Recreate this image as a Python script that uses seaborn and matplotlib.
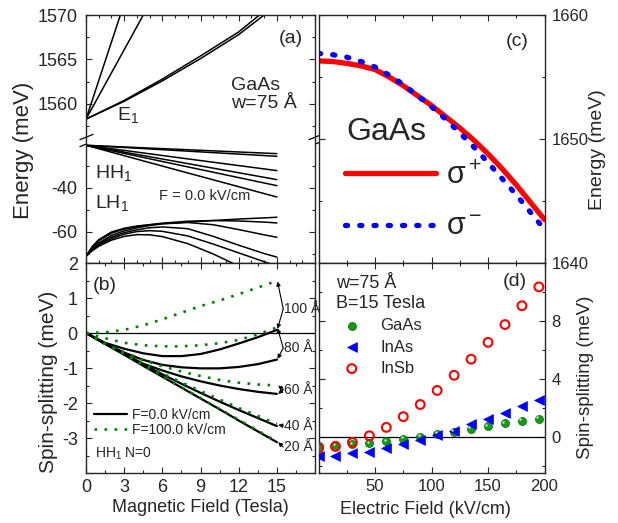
import numpy as np
import pandas as pd
import matplotlib
matplotlib.use('Agg')
import matplotlib.pyplot as plt
import seaborn as sns
from matplotlib.ticker import FixedLocator, MultipleLocator
from matplotlib.path import Path
from matplotlib.transforms import ScaledTranslation

sns.set_style('ticks')
plt.rcParams['font.family'] = ['Liberation Sans', 'DejaVu Sans']
plt.rcParams['mathtext.fontset'] = 'custom'
plt.rcParams['mathtext.rm'] = 'Liberation Sans'
plt.rcParams['mathtext.it'] = 'Liberation Sans:italic'
plt.rcParams['mathtext.bf'] = 'Liberation Sans:bold'
plt.rcParams['axes.unicode_minus'] = False

# ---- (a) Landau levels, GaAs w=75 A, F=0
e1_b_steep = [0, 1.5, 3.0]
e1_b_mid = [0, 2.5, 5.0]
e1_fan = [1558.3, 1564.8, 1571.3]
e1_b_low = [0, 3, 6, 9, 12, 15]
e1_low_1 = [1558.3, 1560.4, 1562.8, 1565.4, 1568.1, 1571.6]
e1_low_2 = [1558.3, 1560.3, 1562.6, 1565.1, 1567.8, 1571.1]

hh_b = [0, 7.5, 15]
hh_levels = [
    [-20.6, -22.5, -24.4],
    [-20.6, -23.1, -25.6],
    [-20.6, -26.4, -32.1],
    [-20.6, -28.4, -36.2],
    [-20.6, -29.8, -38.95],
    [-20.6, -32.4, -44.1],
]

lh_b = [0, 0.5, 1, 2, 3, 4, 5, 6, 8, 10, 12, 14, 15]
lh_levels = [
    [-71, -66.5, -63.5, -60, -58.3, -57.3, -56.7, -56.2, -55.5, -54.8, -54.1, -53.6, -53.3],
    [-71, -67, -64, -60.5, -58.7, -57.5, -56.7, -56, -55.1, -54.8, -55, -55.5, -55.9],
    [-71, -67.5, -65, -61.5, -59.5, -58.1, -57.1, -56.3, -55.7, -56.7, -58.9, -61.3, -62.4],
    [-71, -67.8, -65.5, -62.3, -60.3, -59, -58.1, -57.7, -58.5, -62, -66, -69.8, -71.4],
    [-71, -68.1, -66, -63, -61, -59.8, -59.4, -59.7, -61.8, -65.5, -69.5, -73.5, -75.5],
    [-71, -68.5, -66.5, -63.7, -62, -61.2, -61.3, -62.1, -65.3, -70, -75.5, -80, -82],
]

# ---- (b) spin splitting vs B for several widths
b_field = [0, 1.5, 3, 4.5, 6, 7.5, 9, 10.5, 12, 13.5, 15]
w100_f0 = [0, -0.28, -0.45, -0.58, -0.66, -0.66, -0.6, -0.47, -0.3, -0.12, 0.09]
w80_f0 = [0, -0.3, -0.56, -0.77, -0.91, -0.98, -1.01, -1.01, -0.97, -0.89, -0.76]
w60_f0 = [0, -0.31, -0.6, -0.88, -1.07, -1.24, -1.38, -1.5, -1.6, -1.68, -1.74]
w40_f0 = [0, -0.31, -0.61, -0.9, -1.18, -1.45, -1.71, -1.96, -2.2, -2.43, -2.66]
w20_f0 = [0, -0.31, -0.62, -0.94, -1.25, -1.56, -1.87, -2.18, -2.5, -2.81, -3.12]
w100_f100 = [0, 0.02, 0.09, 0.22, 0.39, 0.58, 0.77, 0.93, 1.11, 1.3, 1.49]
w80_f100 = [0, -0.15, -0.28, -0.35, -0.38, -0.38, -0.35, -0.29, -0.2, -0.04, 0.16]
w60_f100 = [0, -0.3, -0.55, -0.77, -0.95, -1.1, -1.23, -1.34, -1.42, -1.47, -1.5]
w40_f100 = [0, -0.31, -0.6, -0.88, -1.15, -1.41, -1.66, -1.9, -2.14, -2.37, -2.6]
w20_f100 = [0, -0.31, -0.62, -0.93, -1.24, -1.55, -1.86, -2.17, -2.48, -2.79, -3.1]
width_labels = ['100 Å', '80 Å', '60 Å', '40 Å', '20 Å']

# ---- (c) transition energies vs electric field
f_c = [0, 12.5, 25, 37.5, 50, 62.5, 75, 87.5, 100, 112.5, 125, 137.5, 150, 162.5, 175, 187.5, 200]
e_sig_plus = [1656.3, 1656.25, 1656.1, 1655.9, 1655.6, 1655.0, 1654.3, 1653.5, 1652.7, 1651.8,
              1650.9, 1649.9, 1648.8, 1647.6, 1646.3, 1644.9, 1643.5]
e_sig_minus = [1656.9, 1656.8, 1656.6, 1656.25, 1655.8, 1655.15, 1654.4, 1653.5, 1652.6, 1651.6,
               1650.5, 1649.35, 1648.1, 1646.8, 1645.5, 1644.1, 1642.7]

# ---- (d) spin splitting vs electric field at B=15 T
f_d = [0, 15, 30, 45, 60, 75, 90, 105, 120, 135, 150, 165, 180, 195]
ss_gaas = [-0.63, -0.58, -0.51, -0.46, -0.32, -0.16, 0.02, 0.19, 0.35, 0.53, 0.72, 0.93, 1.11, 1.23]
ss_inas = [-1.32, -1.32, -1.14, -1.02, -0.79, -0.51, -0.23, 0.12, 0.42, 0.88, 1.23, 1.65, 2.11, 2.51]
ss_insb = [-0.79, -0.67, -0.39, 0.07, 0.65, 1.39, 2.23, 3.2, 4.25, 5.36, 6.52, 7.75, 9.05, 10.35]


def line(ax, x, y, **kw):
    sns.lineplot(x=x, y=y, ax=ax, estimator=None, sort=False, **kw)


def style(ax, fs, right=False):
    ax.tick_params(which='both', direction='in', top=True, right=True, left=True,
                   bottom=True, labelsize=fs, width=0.8)
    ax.tick_params(which='major', length=4, pad=6)
    ax.tick_params(which='minor', length=2.5)
    if right:
        ax.tick_params(labelleft=False, labelright=True, pad=5)
    for s in ax.spines.values():
        s.set_linewidth(1.0)
    ax.set_xlabel('')
    ax.set_ylabel('')


fig = plt.figure(figsize=(6.18, 5.23), dpi=100)
ax_a1 = fig.add_axes([0.1392, 0.7323, 0.3706, 0.2390])
ax_a2 = fig.add_axes([0.1392, 0.4971, 0.3706, 0.2352])
ax_b = fig.add_axes([0.1392, 0.0956, 0.3706, 0.4015])
ax_c = fig.add_axes([0.5154, 0.4971, 0.3657, 0.4742])
ax_d = fig.add_axes([0.5154, 0.0956, 0.3657, 0.4015])

# (a) upper: E1
for xs, ys in [(e1_b_steep, e1_fan), (e1_b_mid, e1_fan), (e1_b_low, e1_low_1), (e1_b_low, e1_low_2)]:
    line(ax_a1, xs, ys, color='k', lw=1.1)
ax_a1.set_xlim(0, 18)
ax_a1.set_ylim(1555.95, 1570)
ax_a1.yaxis.set_major_locator(FixedLocator([1560, 1565, 1570]))
ax_a1.yaxis.set_minor_locator(MultipleLocator(2.5))
ax_a1.xaxis.set_major_locator(MultipleLocator(3))
ax_a1.xaxis.set_minor_locator(MultipleLocator(1))
style(ax_a1, 13)
ax_a1.tick_params(which='both', bottom=False, labelbottom=False)
ax_a1.spines['bottom'].set_visible(False)
ax_a1.text(0.895, 0.81, '(a)', transform=ax_a1.transAxes, fontsize=14, ha='center', va='center')
ax_a1.text(0.633, 0.44, 'GaAs', transform=ax_a1.transAxes, fontsize=14, ha='left', va='center')
ax_a1.text(0.633, 0.296, 'w=75 Å', transform=ax_a1.transAxes, fontsize=14, ha='left', va='center')
ax_a1.text(0.135, 0.2, 'E$_1$', transform=ax_a1.transAxes, fontsize=14, ha='left', va='center')

# (a) lower: HH1 / LH1
for ys in hh_levels:
    line(ax_a2, hh_b, ys, color='k', lw=1.1)
for ys in lh_levels:
    line(ax_a2, lh_b, ys, color='k', lw=1.1)
ax_a2.set_xlim(0, 18)
ax_a2.set_ylim(-74.1, -18.2)
ax_a2.yaxis.set_major_locator(FixedLocator([-60, -40]))
ax_a2.yaxis.set_minor_locator(FixedLocator([-70, -50, -30]))
ax_a2.xaxis.set_major_locator(MultipleLocator(3))
ax_a2.xaxis.set_minor_locator(MultipleLocator(1))
style(ax_a2, 13)
ax_a2.tick_params(which='both', top=False, labelbottom=False)
ax_a2.spines['top'].set_visible(False)
ax_a2.text(0.04, 0.73, 'HH$_1$', transform=ax_a2.transAxes, fontsize=14, ha='left', va='center')
ax_a2.text(0.04, 0.49, 'LH$_1$', transform=ax_a2.transAxes, fontsize=14, ha='left', va='center')
ax_a2.text(0.319, 0.545, 'F = 0.0 kV/cm', transform=ax_a2.transAxes, fontsize=10.5,
           ha='left', va='center')

# axis-break marks
brk = Path([(-1, -0.9), (1, -0.1), (-1, 0.1), (1, 0.9)],
           [Path.MOVETO, Path.LINETO, Path.MOVETO, Path.LINETO])
ax_a1.plot([0, 1], [0, 0], transform=ax_a1.transAxes, marker=brk, ms=10, ls='none',
           mec='k', mew=0.9, clip_on=False)

# (b) spin splitting vs B
f0_sets = [w100_f0, w80_f0, w60_f0, w40_f0, w20_f0]
f100_sets = [w100_f100, w80_f100, w60_f100, w40_f100, w20_f100]
ax_b.axhline(0, color='k', lw=0.9, zorder=1)
for i, ys in enumerate(f0_sets):
    line(ax_b, b_field, ys, color='k', lw=1.6, label='F=0.0 kV/cm' if i == 0 else '_nolegend_')
for i, ys in enumerate(f100_sets):
    line(ax_b, b_field, ys, color='green', lw=1.9, linestyle=(0, (1, 2.8)),
         label='F=100.0 kV/cm' if i == 0 else '_nolegend_')
ax_b.set_xlim(0, 18)
ax_b.set_ylim(-4, 2)
ax_b.xaxis.set_major_locator(FixedLocator([0, 3, 6, 9, 12, 15]))
ax_b.xaxis.set_minor_locator(FixedLocator([1.5, 4.5, 7.5, 10.5, 13.5, 16.5]))
ax_b.yaxis.set_major_locator(FixedLocator([-3, -2, -1, 0, 1, 2]))
ax_b.yaxis.set_minor_locator(MultipleLocator(0.5))
style(ax_b, 13)
ax_b.tick_params(axis='x', pad=4)
ax_b.legend(loc='upper left', bbox_to_anchor=(0.035, 0.31), frameon=False, fontsize=10,
            handlelength=2.4, handletextpad=0.3, labelspacing=0.1, borderpad=0, borderaxespad=0)
ax_b.text(0.04, 0.09, 'HH$_1$ N=0', transform=ax_b.transAxes, fontsize=10, ha='left', va='center')
ax_b.text(0.03, 0.893, '(b)', transform=ax_b.transAxes, fontsize=14, ha='left', va='center')

lab_y = [0.69, -0.43, -1.62, -2.65, -3.26]
targets = [[(15.05, 1.47), (15.05, 0.12)], [(15.05, 0.14), (15.05, -0.74)],
           [(15.1, -1.5), (15.1, -1.74)], [(15.1, -2.63)], [(15.1, -3.12)]]
arr = dict(arrowstyle='-|>', color='k', lw=0.8, mutation_scale=6, shrinkA=0, shrinkB=0)
for lab, yy, tg in zip(width_labels, lab_y, targets):
    ax_b.text(15.55, yy, lab, fontsize=10, ha='left', va='center')
    for pt in tg:
        ax_b.annotate('', xy=pt, xytext=(15.5, yy), arrowprops=arr)

# (c) sigma+ / sigma- energies
line(ax_c, f_c, e_sig_plus, color='red', lw=3.8, label='σ$^+$')
line(ax_c, f_c, e_sig_minus, color='blue', lw=3.8, linestyle=(0, (0.4, 2.3)),
     dash_capstyle='round', label='σ$^-$')
ax_c.set_xlim(0, 200)
ax_c.set_ylim(1640, 1660)
ax_c.xaxis.set_major_locator(FixedLocator([50, 100, 150, 200]))
ax_c.xaxis.set_minor_locator(MultipleLocator(25))
ax_c.yaxis.set_major_locator(FixedLocator([1640, 1650, 1660]))
ax_c.yaxis.set_minor_locator(FixedLocator([1645, 1655]))
style(ax_c, 12, right=True)
ax_c.tick_params(labelbottom=False)
ax_c.legend(loc='center left', bbox_to_anchor=(0.115, 0.248), frameon=False, fontsize=22,
            handlelength=3.0, handletextpad=0.33, labelspacing=0.7, borderpad=0,
            borderaxespad=0)
ax_c.text(0.122, 0.528, 'GaAs', transform=ax_c.transAxes, fontsize=23, ha='left', va='center')
ax_c.text(0.878, 0.895, '(c)', transform=ax_c.transAxes, fontsize=14, ha='center', va='center')

# (d) spin splitting vs F
ax_d.axhline(0, color='k', lw=0.9, zorder=1)
sns.scatterplot(x=f_d, y=ss_gaas, ax=ax_d, marker='o', s=34, color='#139a13',
                edgecolor='#0b6b0b', linewidth=0.5, label='GaAs', zorder=3)
hl = ax_d.transData + ScaledTranslation(-1.2 / 72, 1.2 / 72, fig.dpi_scale_trans)
ax_d.scatter(f_d, ss_gaas, s=3, color='#bfeebf', transform=hl, zorder=4, linewidths=0)
sns.scatterplot(x=f_d, y=ss_inas, ax=ax_d, marker='<', s=50, color='blue',
                edgecolor='blue', linewidth=0.5, label='InAs', zorder=3)
sns.scatterplot(x=f_d, y=ss_insb, ax=ax_d, marker='o', s=40, color='red',
                edgecolor='red', linewidth=1.5, label='InSb', zorder=5)
ax_d.collections[-1].set_facecolor('none')
ax_d.set_xlim(0, 200)
ax_d.set_ylim(-2.5, 12)
ax_d.xaxis.set_major_locator(FixedLocator([50, 100, 150, 200]))
ax_d.xaxis.set_minor_locator(MultipleLocator(25))
ax_d.yaxis.set_major_locator(FixedLocator([0, 4, 8]))
ax_d.yaxis.set_minor_locator(FixedLocator([-2, 2, 6, 10]))
style(ax_d, 12, right=True)
ax_d.tick_params(axis='x', pad=4)
ax_d.legend(loc='upper left', bbox_to_anchor=(0.077, 0.941), frameon=False, fontsize=12,
            title='w=75 Å\nB=15 Tesla', title_fontsize=13, alignment='left',
            handlelength=1.9, handletextpad=0.75, labelspacing=0.38, borderpad=0,
            borderaxespad=0)
ax_d.text(0.87, 0.912, '(d)', transform=ax_d.transAxes, fontsize=14, ha='center', va='center')

# axis titles
W, H = 618, 523
fig.text(24 / W, 1 - 150 / H, 'Energy (meV)', rotation=90, fontsize=16, ha='center', va='center')
fig.text(49 / W, 1 - 382 / H, 'Spin-splitting (meV)', rotation=90, fontsize=15, ha='center', va='center')
fig.text(598 / W, 1 - 150 / H, 'Energy (meV)', rotation=90, fontsize=14, ha='center', va='center')
fig.text(586 / W, 1 - 377 / H, 'Spin-splitting (meV)', rotation=90, fontsize=13.5, ha='center', va='center')
fig.text(200 / W, 1 - 507 / H, 'Magnetic Field (Tesla)', fontsize=13, ha='center', va='center')
fig.text(425 / W, 1 - 510 / H, 'Electric Field (kV/cm)', fontsize=13, ha='center', va='center')

fig.savefig('out.png', dpi=100)
